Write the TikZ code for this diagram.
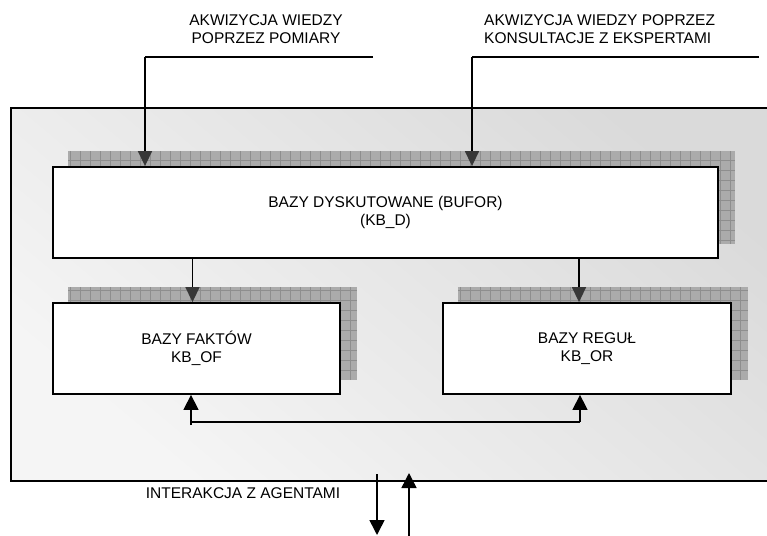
\documentclass[tikz,border=0pt]{standalone}
\usepackage{fontspec}
\setmainfont{Liberation Sans}
\usetikzlibrary{arrows.meta, positioning, calc, backgrounds}
\definecolor{panelgray}{HTML}{DADADA}
\definecolor{panellight}{HTML}{F5F5F5}
\definecolor{shadowgray}{HTML}{ABABAB}
\definecolor{gridgray}{HTML}{8E8E8E}
\definecolor{tipgray}{HTML}{383838}
\tikzset{
  panelbox/.style={draw=black, line width=1.3pt, shade, shading=axis,
                   top color=panelgray, bottom color=panellight, shading angle=-40},
  kbbox/.style={draw=black, line width=1.8pt, fill=white, align=center,
                inner sep=0pt},
  shadowbox/.style={fill=shadowgray},
  shadowgrid/.style={draw=gridgray, line width=0.6pt},
  feedarrow/.style={-{Triangle[width=14pt, length=15pt, color=tipgray]},
                    line width=1.5pt, black},
  flowarrow/.style={-{Triangle[width=15pt, length=15pt]}, line width=1.5pt, black},
  plainline/.style={line width=1.5pt, black},
  caption/.style={align=center, inner sep=0pt},
}
\newcommand{\kbshadow}[1]{%
  \fill[shadowbox] ($(#1.north west)+(16,-15)$) rectangle ($(#1.south east)+(16,-15)$);
  \begin{scope}
    \clip ($(#1.north west)+(16,-15)$) rectangle ($(#1.south east)+(16,-15)$);
    \draw[shadowgrid, step=10pt] ($(#1.north west)+(16,-15)$) grid ($(#1.south east)+(16,-15)$);
  \end{scope}
}

\begin{document}
\begin{tikzpicture}[x=1pt, y=-1pt, font=\fontsize{15.5}{17.5}\selectfont]
  \useasboundingbox (0,0) rectangle (767,535);
  \clip (0,0) rectangle (767,535);

  % knowledge bases
  \node[kbbox, minimum width=665pt, minimum height=91pt] (kbd) at (385.5,212.5)
    {BAZY DYSKUTOWANE (BUFOR)\\(KB\_D)};
  \node[kbbox, minimum width=287pt, minimum height=91pt] (kbof) at (196.5,348.5)
    {BAZY FAKTÓW\\KB\_OF};
  \node[kbbox, minimum width=288pt, minimum height=91pt] (kbor) at (587,348.5)
    {BAZY REGUŁ\\KB\_OR};

  % agent panel and shadows behind the bases
  \begin{pgfonlayer}{background}
    \node[panelbox, minimum width=780pt, minimum height=373pt] (panel) at (401,294.5) {};
    \kbshadow{kbd}
    \kbshadow{kbof}
    \kbshadow{kbor}
  \end{pgfonlayer}

  % acquisition inputs
  \node[caption] (lblmeas) at (266,29) {AKWIZYCJA WIEDZY\\POPRZEZ POMIARY};
  \node[caption, align=left, anchor=west] (lblexp) at (484,29)
    {AKWIZYCJA WIEDZY POPRZEZ\\KONSULTACJE Z EKSPERTAMI};
  \coordinate (measend) at (373,57);
  \coordinate (measturn) at (145,57);
  \coordinate (expend) at (759,57);
  \coordinate (expturn) at (472,57);
  \draw[plainline] (measend) -- (measturn);
  \draw[feedarrow] (measturn) -- (measturn |- kbd.north);
  \draw[plainline] (expend) -- (expturn);
  \draw[feedarrow] (expturn) -- (expturn |- kbd.north);

  % buffer to fact and rule bases
  \draw[feedarrow] ([xshift=-4pt]kbof.north |- kbd.south) -- ([xshift=-4pt]kbof.north);
  \draw[feedarrow] ([xshift=-8pt]kbor.north |- kbd.south) -- ([xshift=-8pt]kbor.north);

  % feedback between bases
  \coordinate (fbleft) at (191,422);
  \coordinate (fbright) at (580,422);
  \draw[plainline] (fbleft) -- (fbright);
  \draw[flowarrow] ([yshift=-3pt]fbleft) -- (fbleft |- kbof.south);
  \draw[flowarrow] (fbright) -- (fbright |- kbor.south);

  % interaction with agents
  \node[caption] (lblagent) at (243,493) {INTERAKCJA Z AGENTAMI};
  \coordinate (agouttop) at (377,474);
  \coordinate (agoutbot) at (377,535);
  \coordinate (agintop) at (409,473);
  \coordinate (aginbot) at (409,540);
  \draw[flowarrow] (agouttop) -- (agoutbot);
  \draw[flowarrow] (aginbot) -- (agintop);
\end{tikzpicture}
\end{document}
